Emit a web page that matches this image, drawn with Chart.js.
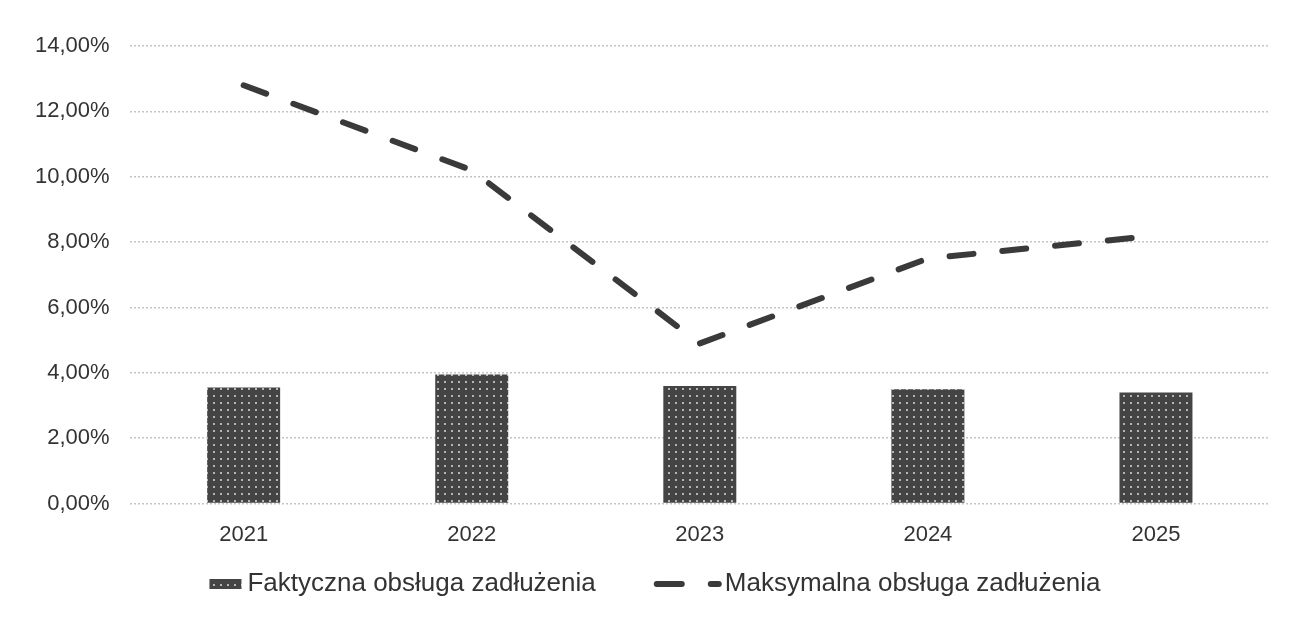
<!DOCTYPE html>
<html>
<head>
<meta charset="utf-8">
<script src="https://cdn.jsdelivr.net/npm/chart.js@4"></script>
<style>
  html, body { margin: 0; padding: 0; background: #fff; }
  #wrap { width: 1290px; height: 618px; }
</style>
</head>
<body>
<div id="wrap"><canvas id="debtChart" width="1290" height="618"></canvas></div>
<script>
// data
const years = ['2021', '2022', '2023', '2024', '2025'];
const actualDebt = [3.55, 3.95, 3.6, 3.5, 3.4];
const maxDebt = [12.8, 10.2, 4.9, 7.5, 8.2];
const yTicks = ['0,00%', '2,00%', '4,00%', '6,00%', '8,00%', '10,00%', '12,00%', '14,00%'];

const FONT = '"Liberation Sans", Arial, sans-serif';
const TEXT = '#333';

// dotted fill for the bars
function dotPattern(g) {
    const c = document.createElement('canvas');
    c.width = 7; c.height = 7;
    const p = c.getContext('2d');
    p.fillStyle = '#444';
    p.fillRect(0, 0, 7, 7);
    p.fillStyle = '#b5b5b5';
    p.fillRect(3, 3, 2, 2);
    return g.createPattern(c, 'repeat');
}

// legend drawn by hand: small dotted box + dashed line, centred under the plot
const bottomLegend = {
    id: 'bottomLegend',
    afterDraw(chart) {
        const g = chart.ctx;
        const sets = chart.data.datasets;
        g.save();
        g.font = '26px ' + FONT;
        g.textBaseline = 'middle';
        const w0 = g.measureText(sets[0].label).width;
        const w1 = g.measureText(sets[1].label).width;
        const gap = 58;
        const total = 32 + 6 + w0 + gap + 68 + 3 + w1;
        let x = chart.width / 2 + 10 - total / 2;
        const y = 584;

        g.fillStyle = sets[0].backgroundColor;
        g.fillRect(x, y - 5, 32, 10);
        x += 38;
        g.fillStyle = TEXT;
        g.fillText(sets[0].label, x, y);
        x += w0 + gap;

        g.strokeStyle = sets[1].borderColor;
        g.lineWidth = sets[1].borderWidth;
        g.lineCap = 'round';
        g.setLineDash([25, 29]);
        g.beginPath();
        g.moveTo(x + 3, y);
        g.lineTo(x + 65, y);
        g.stroke();
        x += 71;
        g.setLineDash([]);
        g.fillText(sets[1].label, x, y);
        g.restore();
    }
};

const ctx = document.getElementById('debtChart').getContext('2d');
const debtChart = new Chart(ctx, {
    type: 'bar',
    data: {
        labels: years,
        datasets: [{
            label: 'Faktyczna obsługa zadłużenia',
            data: actualDebt,
            backgroundColor: dotPattern(ctx),
            borderWidth: 0,
            barPercentage: 0.32,
            categoryPercentage: 1
        }, {
            type: 'line',
            label: 'Maksymalna obsługa zadłużenia',
            data: maxDebt,
            borderColor: '#3a3a3a',
            backgroundColor: '#3a3a3a',
            borderWidth: 6,
            borderDash: [24, 29],
            borderCapStyle: 'round',
            pointRadius: 0,
            tension: 0
        }]
    },
    options: {
        responsive: false,
        animation: false,
        font: { family: FONT },
        layout: { padding: { left: 15, right: 20, top: 46, bottom: 60 } },
        scales: {
            x: {
                grid: { display: false },
                border: { display: false },
                ticks: { padding: 10, color: TEXT, font: { family: FONT, size: 22 } }
            },
            y: {
                min: 0,
                max: 14,
                ticks: {
                    stepSize: 2,
                    padding: 20,
                    color: TEXT,
                    font: { family: FONT, size: 22 },
                    callback: (v, i) => yTicks[i]
                },
                grid: { color: '#c4c4c4', lineWidth: 1.5, drawTicks: false },
                border: { display: false, dash: [2, 2] }
            }
        },
        plugins: {
            legend: { display: false },
            tooltip: { enabled: false }
        }
    },
    plugins: [bottomLegend]
});
</script>
</body>
</html>
